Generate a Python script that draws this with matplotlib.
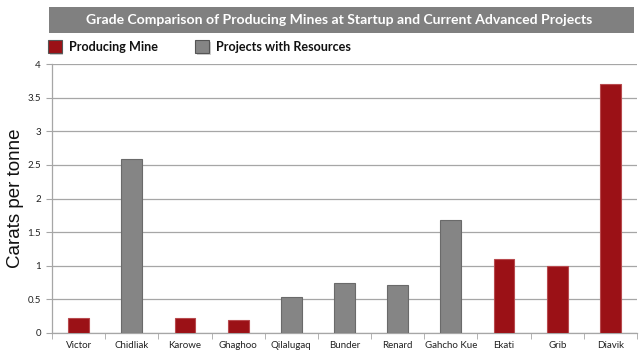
import matplotlib
matplotlib.use("Agg")
import matplotlib.pyplot as plt
from matplotlib.patches import Rectangle

categories = ["Victor", "Chidliak", "Karowe", "Ghaghoo", "Qilalugaq", "Bunder",
              "Renard", "Gahcho Kue", "Ekati", "Grib", "Diavik"]
values = [0.23, 2.58, 0.23, 0.19, 0.54, 0.74, 0.71, 1.68, 1.10, 1.00, 3.70]
kinds = ["Producing Mine", "Projects with Resources", "Producing Mine", "Producing Mine",
         "Projects with Resources", "Projects with Resources", "Projects with Resources",
         "Projects with Resources", "Producing Mine", "Producing Mine", "Producing Mine"]
yticks = [0, 0.5, 1, 1.5, 2, 2.5, 3, 3.5, 4]
ytick_labels = ["0", "0.5", "1", "1.5", "2", "2.5", "3", "3.5", "4"]
title = "Grade Comparison of Producing Mines at Startup and Current Advanced Projects"

RED = "#9b1116"
GRAY = "#858585"
colors = {"Producing Mine": RED, "Projects with Resources": GRAY}
edges = {"Producing Mine": "#b84a4e", "Projects with Resources": "#6a6a6a"}
FONT = ["Lato", "DejaVu Sans"]

W, H = 640, 351
fig = plt.figure(figsize=(W / 100, H / 100), dpi=100)
fig.patch.set_facecolor("white")

ax = fig.add_axes([52 / W, 1 - 333 / H, (637 - 52) / W, (333 - 64) / H])
x = list(range(len(categories)))
ax.bar(x, values, width=0.39,
       color=[colors[k] for k in kinds],
       edgecolor=[edges[k] for k in kinds], linewidth=0.8, zorder=3)
ax.set_xlim(-0.5, len(categories) - 0.5)
ax.set_ylim(0, 4)
ax.set_yticks(yticks)
ax.set_yticklabels(ytick_labels)
ax.grid(axis="y", color="#a6a6a6", linewidth=0.9, zorder=0)
ax.set_xticks(x)
ax.set_xticklabels(categories)
ax.set_xticks([i + 0.5 for i in range(-1, len(categories))], minor=True)
ax.tick_params(axis="x", which="major", length=0, pad=6, labelsize=7, labelcolor="#222222")
ax.tick_params(axis="x", which="minor", length=4, color="#a6a6a6", direction="out")
ax.tick_params(axis="y", length=4, color="#a6a6a6", labelsize=7, labelcolor="#222222", pad=4)
for s in ["top", "right"]:
    ax.spines[s].set_visible(False)
for s in ["left", "bottom"]:
    ax.spines[s].set_color("#a6a6a6")
    ax.spines[s].set_linewidth(0.9)
for lab in ax.get_xticklabels() + ax.get_yticklabels():
    lab.set_family(FONT)
ax.set_ylabel("Carats per tonne", fontsize=13.5, family=["Liberation Sans", "DejaVu Sans"],
              color="#111111")
ax.yaxis.set_label_coords((24 - 52) / (637 - 52), 0.5)

# Title banner
fig.patches.append(Rectangle((49 / W, 1 - 33 / H), (634 - 49) / W, 26 / H,
                             transform=fig.transFigure, facecolor="#808080",
                             edgecolor="none"))
fig.text((87 + 591) / 2 / W, 1 - 20 / H, title, ha="center", va="center",
         color="white", fontsize=10.1, fontweight="bold", family=FONT)

# Legend
leg = [("Producing Mine", 48, 69), ("Projects with Resources", 195, 216)]
for name, sx, tx in leg:
    fig.patches.append(Rectangle(((sx + 1.5) / W, 1 - 54.5 / H), 14 / W, 13 / H,
                                 transform=fig.transFigure, facecolor="#b0b0b0",
                                 edgecolor="none", alpha=0.6))
    fig.patches.append(Rectangle((sx / W, 1 - 53 / H), 14 / W, 13 / H,
                                 transform=fig.transFigure, facecolor=colors[name],
                                 edgecolor="#555555", linewidth=0.8))
    fig.text(tx / W, 1 - 47 / H, name, ha="left", va="center", fontsize=9.1,
             fontweight="bold", color="#111111", family=FONT)

fig.savefig("out.png", dpi=100)
